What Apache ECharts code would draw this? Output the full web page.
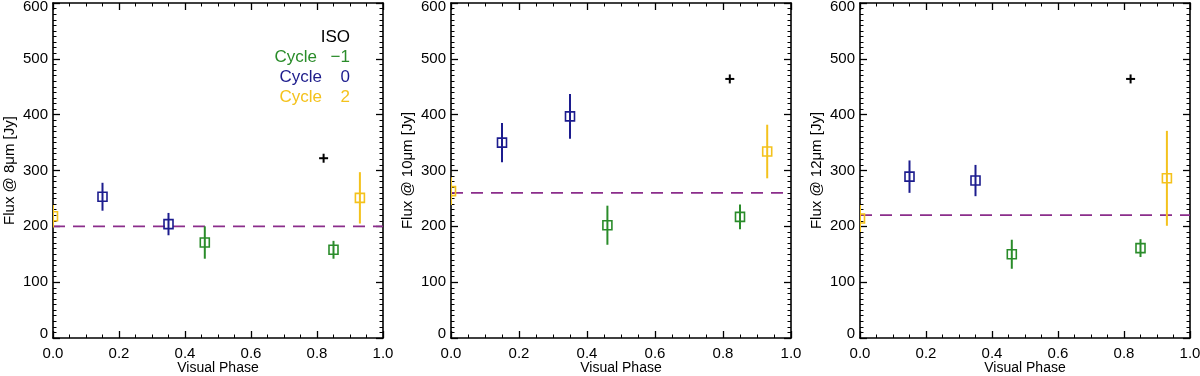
<!DOCTYPE html>
<html>
<head>
<meta charset="utf-8">
<script src="https://cdn.jsdelivr.net/npm/echarts@6/dist/echarts.min.js"></script>
<style>
  html, body { margin: 0; padding: 0; background: #fff; }
  #main { width: 1200px; height: 376px; }
</style>
</head>
<body>
<div id="main"></div>
<script>
// phase of each photometric point and the cycle it belongs to
const pointPhase = [0.0, 0.15, 0.35, 0.46, 0.85, 0.93];
const pointCycle = [2, 0, 0, -1, -1, 2];

// flux and errors, one array per band (order = pointPhase)
const flux8 = [218, 253, 204, 171, 158, 251];
const err8 = [20, 25, 20, 29, 16, 46];
const flux10 = [263, 350, 397, 202, 217, 334];
const err10 = [25, 35, 40, 35, 22, 48];
const flux12 = [214, 289, 282, 150, 161, 286];
const err12 = [24, 29, 28, 26, 16, 85];

// ISO measurement
const isoPhase = 0.82;
const isoFlux = [322, 464, 464];

// mean level (dashed line)
const meanFlux = [200, 260, 220];

const bandNames = ['Flux @ 8\u03bcm [Jy]', 'Flux @ 10\u03bcm [Jy]', 'Flux @ 12\u03bcm [Jy]'];
const xTicks = [0, 0.2, 0.4, 0.6, 0.8, 1.0];
const yTicks = [0, 100, 200, 300, 400, 500, 600];

const cycleColor = { '-1': '#2a8c2a', '0': '#1c1c8e', '2': '#f4c21c' };
const FONT = 'Liberation Sans';

const grids = [
  { left: 53, width: 330, top: 3, bottom: 38, outerBoundsMode: 'none', containLabel: false },
  { left: 451, width: 340, top: 3, bottom: 38, outerBoundsMode: 'none', containLabel: false },
  { left: 860, width: 330, top: 3, bottom: 38, outerBoundsMode: 'none', containLabel: false }
];

const axisLine = { show: true, onZero: false, lineStyle: { color: '#000', width: 1.6 } };
const axisTick = { show: true, inside: true, length: 7, lineStyle: { color: '#000', width: 1.3 } };
const minorLine = { color: '#000', width: 1 };

const xAxes = [], yAxes = [], series = [];

function errRender(params, api) {
  const x = api.value(0), y = api.value(1), e = api.value(2);
  const color = cycleColor[String(api.value(3))];
  const c = api.coord([x, y]);
  const t = api.coord([x, y + e]);
  const b = api.coord([x, y - e]);
  const s = 9;
  return {
    type: 'group',
    children: [
      { type: 'line', shape: { x1: c[0], y1: t[1], x2: c[0], y2: b[1] },
        style: { stroke: color, lineWidth: 2 } },
      { type: 'rect', shape: { x: c[0] - s / 2, y: c[1] - s / 2, width: s, height: s },
        style: { fill: 'none', stroke: color, lineWidth: 1.6 } }
    ]
  };
}

function plusRender(params, api) {
  const c = api.coord([api.value(0), api.value(1)]);
  const h = 4.5;
  return {
    type: 'group',
    children: [
      { type: 'line', shape: { x1: c[0] - h, y1: c[1], x2: c[0] + h, y2: c[1] }, style: { stroke: '#000', lineWidth: 2 } },
      { type: 'line', shape: { x1: c[0], y1: c[1] - h, x2: c[0], y2: c[1] + h }, style: { stroke: '#000', lineWidth: 2 } }
    ]
  };
}

const yLabelRich = {
  lo: { fontFamily: FONT, fontSize: 15, color: '#000', padding: [0, 0, 8, 0] },
  hi: { fontFamily: FONT, fontSize: 15, color: '#000', padding: [8, 0, 0, 0] }
};

const bands = [[flux8, err8], [flux10, err10], [flux12, err12]];

bands.forEach(function (band, i) {
  const flux = band[0], err = band[1];
  ['bottom', 'top'].forEach(function (pos) {
    xAxes.push({
      gridIndex: i, type: 'value', position: pos,
      min: xTicks[0], max: xTicks[xTicks.length - 1], interval: 0.2,
      axisLine: axisLine, axisTick: axisTick, splitLine: { show: false },
      minorTick: { show: true, splitNumber: 4, length: 3.5, lineStyle: minorLine },
      axisLabel: pos === 'bottom' ? { color: '#000', fontFamily: FONT, fontSize: 15, margin: 8,
        formatter: function (v) { return v.toFixed(1); } } : { show: false }
    });
  });
  ['left', 'right'].forEach(function (pos) {
    yAxes.push({
      gridIndex: i, type: 'value', position: pos,
      min: yTicks[0], max: yTicks[yTicks.length - 1], interval: 100,
      axisLine: axisLine, axisTick: axisTick, splitLine: { show: false },
      minorTick: { show: true, splitNumber: 10, length: 3.5, lineStyle: minorLine },
      axisLabel: pos === 'left' ? {
        color: '#000', fontFamily: FONT, fontSize: 15, margin: 5, rich: yLabelRich,
        formatter: function (v) {
          if (v === yTicks[0]) return '{lo|' + v + '}';
          if (v === yTicks[yTicks.length - 1]) return '{hi|' + v + '}';
          return String(v);
        }
      } : { show: false },
      name: pos === 'left' ? bandNames[i] : '', nameLocation: 'middle', nameGap: 36,
      nameMoveOverlap: false,
      nameTextStyle: { color: '#000', fontFamily: FONT, fontSize: 15 }
    });
  });

  const xi = i * 2, yi = i * 2;

  // dashed mean level
  series.push({
    type: 'line', xAxisIndex: xi, yAxisIndex: yi,
    data: [[0, meanFlux[i]], [1, meanFlux[i]]],
    symbol: 'none', silent: true, z: 1,
    lineStyle: { color: '#8b2d8b', width: 1.8, type: [12, 8] }
  });

  // error bars + squares
  series.push({
    type: 'custom', xAxisIndex: xi, yAxisIndex: yi, clip: true,
    renderItem: errRender,
    data: pointPhase.map(function (p, k) { return [p, flux[k], err[k], pointCycle[k]]; }),
    z: 3
  });

  // ISO point
  series.push({
    type: 'custom', xAxisIndex: xi, yAxisIndex: yi,
    renderItem: plusRender,
    data: [[isoPhase, isoFlux[i]]],
    z: 3
  });
});

// x axis titles, centred under each panel
const xTitles = grids.map(function (g) {
  return {
    type: 'text', x: g.left + g.width / 2, y: 368,
    style: { text: 'Visual Phase', fill: '#000', font: '14px "' + FONT + '"',
      align: 'center', verticalAlign: 'middle' }
  };
});

// legend text in first panel
const legendRight = 350;
const lf = '17px "' + FONT + '"';
const legendGraphic = [
  { type: 'text', right: 1200 - legendRight, top: 29, style: { text: 'ISO', fill: '#000', font: lf } },
  { type: 'text', right: 1200 - 317, top: 49, style: { text: 'Cycle', fill: cycleColor['-1'], font: lf } },
  { type: 'text', right: 1200 - legendRight, top: 49, style: { text: '\u22121', fill: cycleColor['-1'], font: lf } },
  { type: 'text', right: 1200 - 322, top: 69, style: { text: 'Cycle', fill: cycleColor['0'], font: lf } },
  { type: 'text', right: 1200 - legendRight, top: 69, style: { text: '0', fill: cycleColor['0'], font: lf } },
  { type: 'text', right: 1200 - 322, top: 89, style: { text: 'Cycle', fill: cycleColor['2'], font: lf } },
  { type: 'text', right: 1200 - legendRight, top: 89, style: { text: '2', fill: cycleColor['2'], font: lf } }
];

const myChart = echarts.init(document.getElementById('main'), null, { renderer: 'canvas' });
myChart.setOption({
  backgroundColor: '#fff',
  animation: false,
  grid: grids,
  xAxis: xAxes,
  yAxis: yAxes,
  series: series,
  graphic: xTitles.concat(legendGraphic)
});
</script>
</body>
</html>
